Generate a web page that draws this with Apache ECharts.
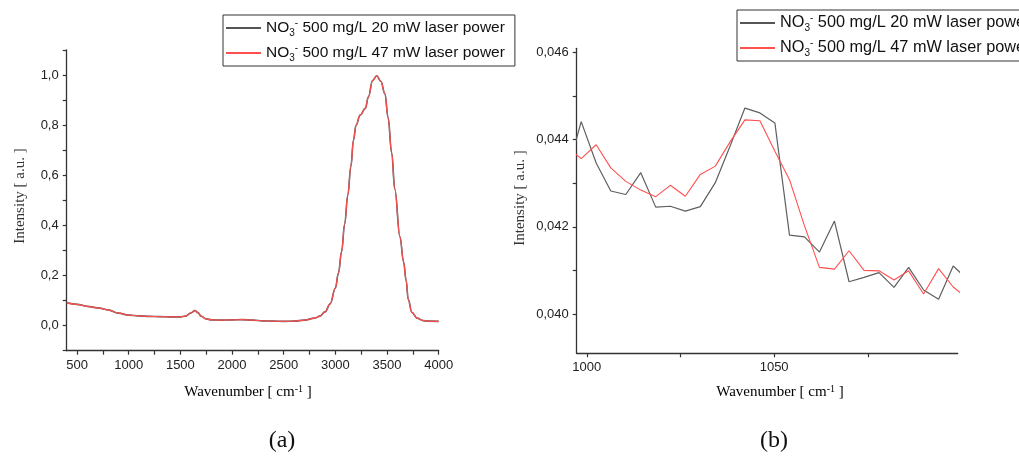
<!DOCTYPE html>
<html><head><meta charset="utf-8">
<script src="https://cdn.jsdelivr.net/npm/echarts@6/dist/echarts.min.js"></script>
<style>html,body{margin:0;padding:0;background:#fff}#c{width:1019px;height:456px}</style>
</head><body><div id="c"></div>
<script>
// ---- Panel (a): full spectrum ----
const wavenumberA = [400,500,600,700,800,900,1000,1100,1200,1300,1400,1500,1550,1600,1640,1670,1700,1750,1800,1900,2000,2100,2200,2300,2400,2500,2600,2700,2800,2850,2900,2950,3000,3030,3060,3090,3120,3150,3175,3200,3240,3290,3320,3360,3400,3440,3480,3510,3545,3575,3625,3660,3685,3705,3740,3790,3850,3900,4000];
const intensityA20 = [0.091,0.085,0.077,0.071,0.063,0.050,0.042,0.039,0.037,0.036,0.035,0.035,0.038,0.050,0.060,0.052,0.038,0.027,0.023,0.022,0.023,0.024,0.022,0.019,0.018,0.017,0.018,0.022,0.030,0.038,0.055,0.087,0.150,0.210,0.295,0.405,0.520,0.635,0.740,0.800,0.840,0.867,0.913,0.978,0.997,0.975,0.925,0.830,0.690,0.545,0.355,0.255,0.180,0.105,0.053,0.030,0.020,0.018,0.017];
const intensityA47 = [0.091,0.085,0.077,0.071,0.063,0.050,0.042,0.039,0.037,0.036,0.035,0.035,0.038,0.050,0.060,0.052,0.038,0.027,0.023,0.022,0.023,0.024,0.022,0.019,0.018,0.017,0.018,0.022,0.030,0.038,0.055,0.087,0.150,0.210,0.295,0.405,0.520,0.635,0.740,0.800,0.840,0.867,0.913,0.978,0.997,0.975,0.925,0.830,0.690,0.545,0.355,0.255,0.180,0.105,0.053,0.030,0.020,0.018,0.017];
const xLabelsA = [500,1000,1500,2000,2500,3000,3500,4000];
const xTicksA = [500,750,1000,1250,1500,1750,2000,2250,2500,2750,3000,3250,3500,3750,4000];
const yLabelsA = [0,0.2,0.4,0.6,0.8,1.0];
const yTicksA = [-0.1,0,0.1,0.2,0.3,0.4,0.5,0.6,0.7,0.8,0.9,1.0,1.1];

// ---- Panel (b): zoom 1000-1100 cm-1 ----
const wavenumberB = [994.5,998.5,1002.5,1006.4,1010.4,1014.4,1018.4,1022.3,1026.3,1030.3,1034.3,1038.2,1042.2,1046.2,1050.2,1054.1,1058.1,1062.1,1066.1,1070.0,1074.0,1078.0,1082.0,1085.9,1089.9,1093.9,1097.8,1101.8];
const intensityB20 = [0.04316,0.04441,0.04346,0.04282,0.04274,0.04324,0.04245,0.04247,0.04236,0.04246,0.04301,0.04384,0.04472,0.04461,0.04438,0.04181,0.04177,0.04142,0.04213,0.04074,0.04084,0.04095,0.04061,0.04107,0.04055,0.04034,0.04110,0.04078];
const intensityB47 = [0.04384,0.04356,0.04388,0.04335,0.04304,0.04284,0.04269,0.04295,0.04270,0.04320,0.04339,0.04394,0.04445,0.04443,0.04373,0.04308,0.04202,0.04107,0.04103,0.04145,0.04100,0.04099,0.04078,0.04099,0.04046,0.04104,0.04062,0.04034];
const xLabelsB = [1000,1050];
const xTicksB = [1000,1025,1050,1075];
const yLabelsB = [0.040,0.042,0.044,0.046];
const yTicksB = [0.040,0.041,0.042,0.043,0.044,0.045,0.046];

const seriesNames = ['20 mW','47 mW'];
const legendText = {'20 mW':'500 mg/L 20 mW laser power','47 mW':'500 mg/L 47 mW laser power'};

const pair = (xs, ys) => xs.map((x,i)=>[x, ys[i]]);
const comma = (d) => (v) => v.toFixed(d).replace('.', ',');

function makeX(gi, min, max, labels, ticks){
  return {type:'value', gridIndex:gi, min:min, max:max,
    axisLine:{show:true,onZero:false,lineStyle:{color:'#333',width:1.3}},
    axisTick:{show:true,inside:false,length:4,customValues:ticks,lineStyle:{color:'#333',width:1.2}},
    axisLabel:{customValues:labels,margin:8,color:'#222',fontFamily:'Liberation Sans',fontSize:13,formatter:(v)=>String(Math.round(v))},
    splitLine:{show:false}};
}
function makeY(gi, min, max, labels, ticks, dec){
  return {type:'value', gridIndex:gi, min:min, max:max,
    axisLine:{show:true,onZero:false,lineStyle:{color:'#333',width:1.3}},
    axisTick:{show:true,inside:false,length:4,customValues:ticks,lineStyle:{color:'#333',width:1.2}},
    axisLabel:{customValues:labels,margin:8,color:'#222',fontFamily:'Liberation Sans',fontSize:13,formatter:comma(dec)},
    splitLine:{show:false}};
}
function makeRich(fs){
  return {
    n:{fontFamily:'Liberation Sans',fontSize:fs,color:'#111',lineHeight:20},
    sub:{fontFamily:'Liberation Sans',fontSize:10,color:'#111',verticalAlign:'bottom'},
    sup:{fontFamily:'Liberation Sans',fontSize:10,color:'#111',verticalAlign:'top'}
  };
}
function makeLegend(left, top, fs){
  return {left:left, top:top, orient:'vertical', data:seriesNames, itemWidth:35, itemHeight:14, itemGap:5,
    backgroundColor:'#fff', borderColor:'#333', borderWidth:1, padding:[3,10,3,2],
    itemStyle:{opacity:0},
    formatter:(name)=>'{n|NO}{sub|3}{sup|-}{n| '+legendText[name]+'}',
    textStyle:{rich:makeRich(fs)}};
}
const serif = 'Liberation Serif';
const titleRich = {
  a:{fontFamily:serif,fontSize:15,color:'#333'},
  s:{fontFamily:serif,fontSize:10,color:'#333',verticalAlign:'top'}
};
function xTitle(cx){
  return {type:'text', x:cx, y:392, style:{text:'{a|Wavenumber [ cm}{s|-1}{a| ]}', rich:titleRich, align:'center', verticalAlign:'middle'}};
}
function yTitle(cx, cy){
  return {type:'text', x:cx, y:cy, rotation:Math.PI/2, style:{text:'Intensity [ a.u. ]', font:'15px "Liberation Serif"', fill:'#333', align:'center', verticalAlign:'middle'}};
}

const chart = echarts.init(document.getElementById('c'), null, {renderer:'canvas'});
chart.setOption({
  animation:false,
  backgroundColor:'#fff',
  grid:[
    {left:66.7, top:50, width:372, height:300.7},
    {left:576.7, top:48.3, width:381, height:305}
  ],
  xAxis:[ makeX(0,400,4000,xLabelsA,xTicksA), makeX(1,997.3,1099,xLabelsB,xTicksB) ],
  yAxis:[ makeY(0,-0.1,1.1,yLabelsA,yTicksA,1), makeY(1,0.0391,0.04609,yLabelsB,yTicksB,3) ],
  legend:[ makeLegend(223,15,15.5), makeLegend(737,10,16.3) ],
  series:[
    {name:seriesNames[0], type:'line', xAxisIndex:0, yAxisIndex:0, data:pair(wavenumberA,intensityA20), symbol:'none', smooth:0.4, smoothMonotone:'x', lineStyle:{color:'#555',width:1.6}, itemStyle:{color:'#555'}, z:2},
    {name:seriesNames[1], type:'line', xAxisIndex:0, yAxisIndex:0, data:pair(wavenumberA,intensityA47), symbol:'none', smooth:0.4, smoothMonotone:'x', lineStyle:{color:'#ff5050',width:1.2}, itemStyle:{color:'#ff5050'}, z:3},
    {name:seriesNames[0], type:'line', xAxisIndex:1, yAxisIndex:1, data:pair(wavenumberB,intensityB20), symbol:'none', lineStyle:{color:'#5f5f5f',width:1.2}, itemStyle:{color:'#5f5f5f'}, z:2},
    {name:seriesNames[1], type:'line', xAxisIndex:1, yAxisIndex:1, data:pair(wavenumberB,intensityB47), symbol:'none', lineStyle:{color:'#ff5050',width:1.1}, itemStyle:{color:'#ff5050'}, z:3}
  ],
  graphic:[
    xTitle(248), xTitle(780),
    yTitle(20,196), yTitle(520,198),
    {type:'text', x:282, y:441, style:{text:'(a)', font:'24px "Liberation Serif"', fill:'#111', align:'center', verticalAlign:'middle'}},
    {type:'text', x:774, y:441, style:{text:'(b)', font:'24px "Liberation Serif"', fill:'#111', align:'center', verticalAlign:'middle'}}
  ]
});
</script></body></html>
